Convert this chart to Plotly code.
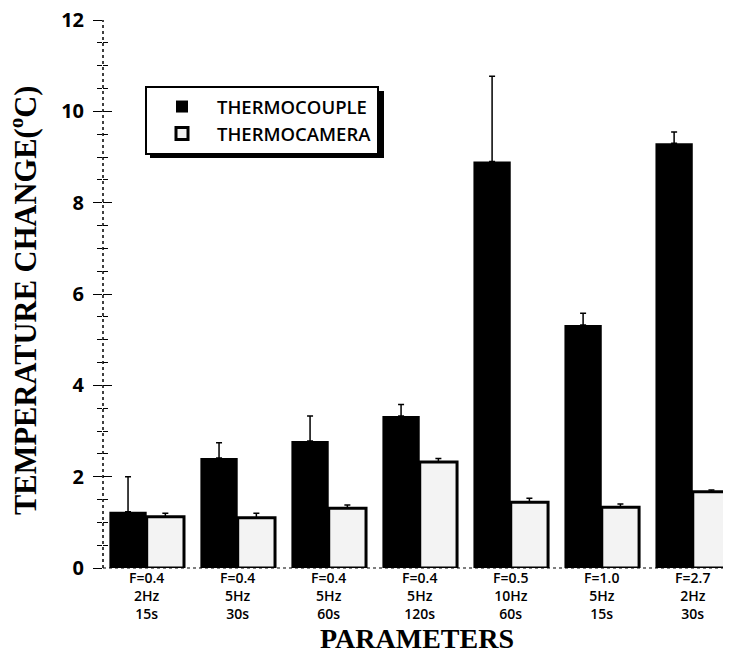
import plotly.graph_objects as go

categories = ["F=0.4<br>2Hz<br>15s", "F=0.4<br>5Hz<br>30s", "F=0.4<br>5Hz<br>60s",
              "F=0.4<br>5Hz<br>120s", "F=0.5<br>10Hz<br>60s", "F=1.0<br>5Hz<br>15s",
              "F=2.7<br>2Hz<br>30s"]
thermocouple = [1.23, 2.41, 2.78, 3.33, 8.9, 5.32, 9.3]
thermocouple_err = [0.77, 0.33, 0.55, 0.25, 1.87, 0.26, 0.25]
thermocamera = [1.12, 1.10, 1.31, 2.32, 1.44, 1.33, 1.67]
thermocamera_err = [0.08, 0.10, 0.07, 0.08, 0.09, 0.07, 0.04]

fig = go.Figure()
fig.add_trace(go.Bar(
    x=categories, y=thermocouple, name="THERMOCOUPLE", offsetgroup="1",
    marker=dict(color="black", line=dict(width=0)),
    error_y=dict(type="data", symmetric=False, array=thermocouple_err,
                 arrayminus=[0] * len(thermocouple), color="black", thickness=1.5, width=3),
))
fig.add_trace(go.Bar(
    x=categories, y=thermocamera, name="THERMOCAMERA", offsetgroup="2", yaxis="y2",
    marker=dict(color="#f3f3f3", line=dict(width=3, color="black")),
    error_y=dict(type="data", symmetric=False, array=thermocamera_err,
                 arrayminus=[0] * len(thermocamera), color="black", thickness=1.5, width=3),
))

# page pixel -> paper coordinate helpers (plot area x 103..731, y 20..568 on the page)
def px(p):
    return (p - 103) / 628.0

def py(p):
    return (568 - p) / 548.0

fig.update_layout(
    width=723, height=646,
    margin=dict(l=95, r=0, t=12, b=86, autoexpand=False),
    paper_bgcolor="white", plot_bgcolor="white",
    barmode="group", bargap=0.18, bargroupgap=0,
    showlegend=True,
    legend=dict(x=px(145), y=py(86), xanchor="left", yanchor="top",
                bgcolor="white", bordercolor="black", borderwidth=2,
                font=dict(family="Open Sans", size=18.5, color="black", weight=600),
                itemwidth=60, tracegroupgap=0),
    xaxis=dict(range=[-0.48, 6.42], showline=False, showgrid=False, ticks="",
               tickfont=dict(family="Open Sans", size=14, color="black", weight=600),
               title=dict(text="PARAMETERS", standoff=1,
                          font=dict(family="Liberation Serif", size=28, color="black", weight=700))),
    yaxis=dict(range=[0, 12], dtick=2, showgrid=False, zeroline=False, showline=False,
               ticks="outside", ticklen=9, tickwidth=1, tickcolor="black",
               ticklabelstandoff=5, ticklabeloverflow="allow",
               minor=dict(dtick=0.5, ticks="outside", ticklen=5, tickcolor="black"),
               tickfont=dict(family="Open Sans", size=20, color="black", weight=700),
               title=dict(text="")),
    yaxis2=dict(range=[0, 12], dtick=2, overlaying="y", side="left", showgrid=False,
                zeroline=False, showline=False, showticklabels=False,
                ticks="inside", ticklen=9, tickwidth=1, tickcolor="black",
                minor=dict(dtick=0.5, ticks="inside", ticklen=5, tickcolor="black")),
    annotations=[dict(text="TEMPERATURE CHANGE(<sup>o</sup>C)", textangle=-90,
                      xref="paper", yref="paper", x=px(23), y=py(300),
                      xanchor="center", yanchor="middle", showarrow=False,
                      font=dict(family="Liberation Serif", size=30.5, color="black", weight=700))],
    shapes=[
        dict(type="line", xref="paper", yref="paper", x0=0, x1=0, y0=0, y1=1,
             line=dict(color="black", width=1.5, dash="dot")),
        dict(type="line", xref="paper", yref="paper", x0=0, x1=1, y0=0, y1=0,
             line=dict(color="black", width=1, dash="dot"), layer="below"),
        dict(type="rect", xref="paper", yref="paper", x0=px(150), x1=px(384),
             y0=py(158), y1=py(91), fillcolor="black", line=dict(width=0), layer="above"),
    ],
)

fig.write_html("out.html")
